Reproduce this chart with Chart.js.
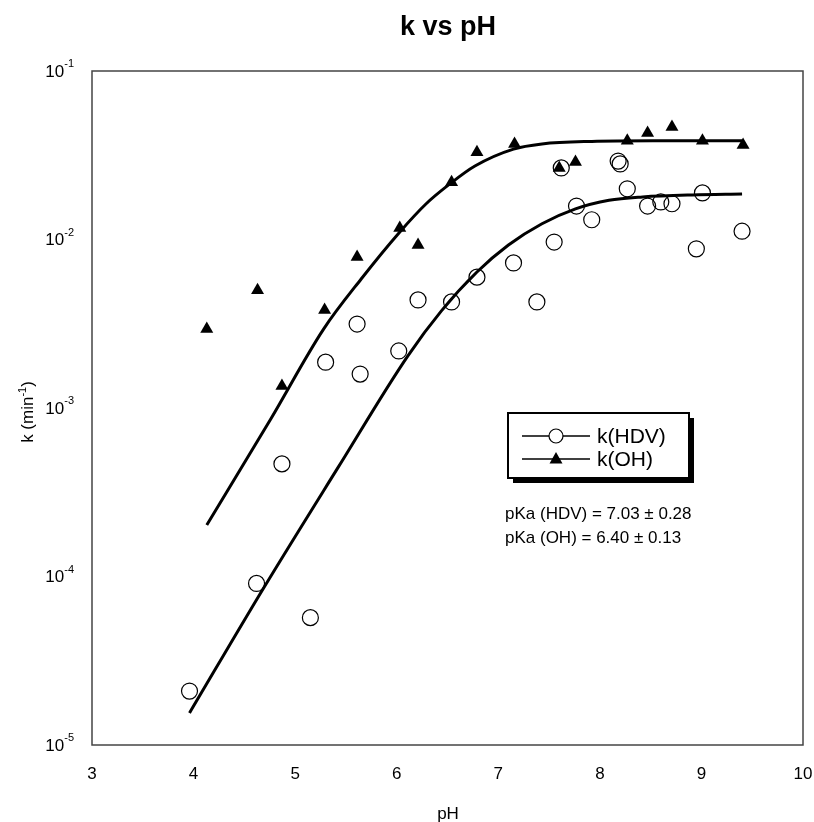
<!DOCTYPE html>
<html>
<head>
<meta charset="utf-8">
<script src="https://cdn.jsdelivr.net/npm/chart.js@4/dist/chart.umd.min.js"></script>
<style>
  html, body { margin: 0; padding: 0; background: #fff; }
  #wrap { width: 814px; height: 822px; position: relative; }
</style>
</head>
<body>
<div id="wrap"><canvas id="chart"></canvas></div>
<script>
// Datos medidos: k(HDV)
const phHDV = [3.96, 4.62, 4.87, 5.15, 5.30, 5.61, 5.64, 6.02, 6.21, 6.54, 6.79, 7.15, 7.38,
  7.55, 7.62, 7.77, 7.92, 8.18, 8.20, 8.27, 8.47, 8.60, 8.71, 8.95, 9.01, 9.40];
const kHDV = [2.09e-5, 9.1e-5, 4.66e-4, 5.7e-5, 1.87e-3, 3.15e-3, 1.59e-3, 2.18e-3, 4.38e-3,
  4.26e-3, 5.98e-3, 7.26e-3, 4.26e-3, 9.66e-3, 2.66e-2, 1.58e-2, 1.31e-2, 2.92e-2, 2.81e-2,
  2.00e-2, 1.58e-2, 1.67e-2, 1.63e-2, 8.8e-3, 1.89e-2, 1.12e-2];

// Datos medidos: k(OH)
const phOH = [4.13, 4.63, 4.87, 5.29, 5.61, 6.03, 6.21, 6.54, 6.79, 7.16, 7.60, 7.76, 8.27,
  8.47, 8.71, 9.01, 9.41];
const kOH = [2.94e-3, 5.0e-3, 1.35e-3, 3.82e-3, 7.87e-3, 1.17e-2, 9.27e-3, 2.19e-2, 3.30e-2,
  3.69e-2, 2.66e-2, 2.88e-2, 3.85e-2, 4.28e-2, 4.65e-2, 3.85e-2, 3.64e-2];

// Curvas de ajuste
const phFitHDV = [3.96, 4.69, 5.42, 6.11, 6.44, 6.79, 7.10, 7.43, 7.76, 8.09, 8.42, 8.91, 9.40];
const kFitHDV = [1.55e-5, 8.55e-5, 4.41e-4, 2.04e-3, 3.77e-3, 6.41e-3, 9.27e-3, 1.24e-2,
  1.52e-2, 1.71e-2, 1.79e-2, 1.84e-2, 1.86e-2];
const phFitOH = [4.13, 4.76, 5.28, 5.65, 6.02, 6.29, 6.52, 6.77, 7.15, 7.43, 7.92, 8.52, 9.40];
const kFitOH = [2.02e-4, 8.61e-4, 2.94e-3, 5.83e-3, 1.09e-2, 1.63e-2, 2.13e-2, 2.73e-2,
  3.44e-2, 3.69e-2, 3.82e-2, 3.85e-2, 3.85e-2];

// Ticks
const xTicks = [3, 4, 5, 6, 7, 8, 9, 10];
const yTicks = [1e-1, 1e-2, 1e-3, 1e-4, 1e-5];
const yExp = ["-1", "-2", "-3", "-4", "-5"];

const titleText = "k vs pH";
const xTitle = "pH";
const legendLabels = ["k(HDV)", "k(OH)"];
const notes = ["pKa (HDV) = 7.03 \u00b1 0.28", "pKa (OH) = 6.40 \u00b1 0.13"];

const FONT = '"Liberation Sans", Arial, sans-serif';

const toXY = (xs, ys) => xs.map((x, i) => ({ x, y: ys[i] }));

// Marco, textos y leyenda
const decor = {
  id: "decor",
  beforeDatasetsDraw(chart) {
    const { ctx, chartArea: a } = chart;
    ctx.save();
    ctx.strokeStyle = "#444";
    ctx.lineWidth = 1.5;
    ctx.strokeRect(a.left, a.top, a.right - a.left, a.bottom - a.top);
    ctx.restore();
  },
  afterDraw(chart) {
    const { ctx, scales } = chart;
    const xs = scales.x, ys = scales.y;
    ctx.save();
    ctx.fillStyle = "#000";

    // titulo
    ctx.font = "bold 27px " + FONT;
    ctx.textAlign = "center";
    ctx.textBaseline = "alphabetic";
    ctx.fillText(titleText, 448, 35);

    // ticks eje x
    ctx.font = "17px " + FONT;
    ctx.textBaseline = "middle";
    xTicks.forEach((v) => ctx.fillText(String(v), xs.getPixelForValue(v), 774));

    // ticks eje y con exponente
    yTicks.forEach((v, i) => {
      const py = ys.getPixelForValue(v);
      ctx.font = "11px " + FONT;
      const ew = ctx.measureText(yExp[i]).width;
      ctx.textAlign = "left";
      ctx.fillText(yExp[i], 74 - ew, py - 7);
      ctx.font = "17px " + FONT;
      ctx.textAlign = "right";
      ctx.fillText("10", 74 - ew, py + 1);
    });

    // titulo eje x
    ctx.font = "17px " + FONT;
    ctx.textAlign = "center";
    ctx.textBaseline = "alphabetic";
    ctx.fillText(xTitle, 448, 819);

    // titulo eje y
    ctx.save();
    ctx.translate(33, 412);
    ctx.rotate(-Math.PI / 2);
    const p1 = "k (min", p2 = "-1", p3 = ")";
    ctx.font = "17px " + FONT;
    const w1 = ctx.measureText(p1).width, w3 = ctx.measureText(p3).width;
    ctx.font = "11px " + FONT;
    const w2 = ctx.measureText(p2).width;
    const sx = -(w1 + w2 + w3) / 2;
    ctx.textAlign = "left";
    ctx.font = "17px " + FONT;
    ctx.fillText(p1, sx, 0);
    ctx.font = "11px " + FONT;
    ctx.fillText(p2, sx + w1, -7);
    ctx.font = "17px " + FONT;
    ctx.fillText(p3, sx + w1 + w2, 0);
    ctx.restore();

    // leyenda
    const bx = 508, by = 413, bw = 181, bh = 65;
    ctx.fillStyle = "#000";
    ctx.fillRect(bx + 5, by + 5, bw, bh);
    ctx.fillStyle = "#fff";
    ctx.fillRect(bx, by, bw, bh);
    ctx.strokeStyle = "#000";
    ctx.lineWidth = 2;
    ctx.strokeRect(bx, by, bw, bh);

    const rows = [436, 459];
    ctx.lineWidth = 1.5;
    rows.forEach((ry) => {
      ctx.beginPath();
      ctx.moveTo(522, ry);
      ctx.lineTo(590, ry);
      ctx.stroke();
    });
    ctx.beginPath();
    ctx.arc(556, rows[0], 7, 0, Math.PI * 2);
    ctx.fillStyle = "#fff";
    ctx.fill();
    ctx.lineWidth = 1.2;
    ctx.stroke();
    ctx.fillStyle = "#000";
    ctx.beginPath();
    ctx.moveTo(556, rows[1] - 7);
    ctx.lineTo(562.5, rows[1] + 4.5);
    ctx.lineTo(549.5, rows[1] + 4.5);
    ctx.closePath();
    ctx.fill();

    ctx.font = "21px " + FONT;
    ctx.textAlign = "left";
    ctx.textBaseline = "middle";
    ctx.fillText(legendLabels[0], 597, rows[0] + 1);
    ctx.fillText(legendLabels[1], 597, rows[1] + 1);

    // notas pKa
    ctx.font = "17px " + FONT;
    ctx.fillText(notes[0], 505, 514);
    ctx.fillText(notes[1], 505, 538);
    ctx.restore();
  },
};

new Chart(document.getElementById("chart"), {
  type: "scatter",
  data: {
    datasets: [
      {
        label: "ajuste HDV",
        data: toXY(phFitHDV, kFitHDV),
        showLine: true,
        borderColor: "#000",
        borderWidth: 3,
        pointRadius: 0,
        cubicInterpolationMode: "monotone",
      },
      {
        label: "ajuste OH",
        data: toXY(phFitOH, kFitOH),
        showLine: true,
        borderColor: "#000",
        borderWidth: 3,
        pointRadius: 0,
        cubicInterpolationMode: "monotone",
      },
      {
        label: legendLabels[0],
        data: toXY(phHDV, kHDV),
        pointStyle: "circle",
        pointRadius: 8,
        borderColor: "#000",
        borderWidth: 1.2,
        backgroundColor: "rgba(0,0,0,0)",
      },
      {
        label: legendLabels[1],
        data: toXY(phOH, kOH),
        pointStyle: "triangle",
        pointRadius: 7.5,
        borderColor: "#000",
        borderWidth: 0,
        backgroundColor: "#000",
      },
    ],
  },
  options: {
    responsive: true,
    maintainAspectRatio: false,
    animation: false,
    events: [],
    layout: { padding: { left: 92, right: 11, top: 71, bottom: 77 } },
    plugins: {
      legend: { display: false },
      title: { display: false },
      tooltip: { enabled: false },
    },
    scales: {
      x: {
        type: "linear",
        min: 3,
        max: 10,
        grid: { display: false, drawTicks: false },
        border: { display: false },
        ticks: { display: false },
        afterFit: (s) => { s.height = 0; },
      },
      y: {
        type: "logarithmic",
        min: 1e-5,
        max: 1e-1,
        grid: { display: false, drawTicks: false },
        border: { display: false },
        ticks: { display: false },
        afterFit: (s) => { s.width = 0; },
      },
    },
  },
  plugins: [decor],
});
</script>
</body>
</html>
